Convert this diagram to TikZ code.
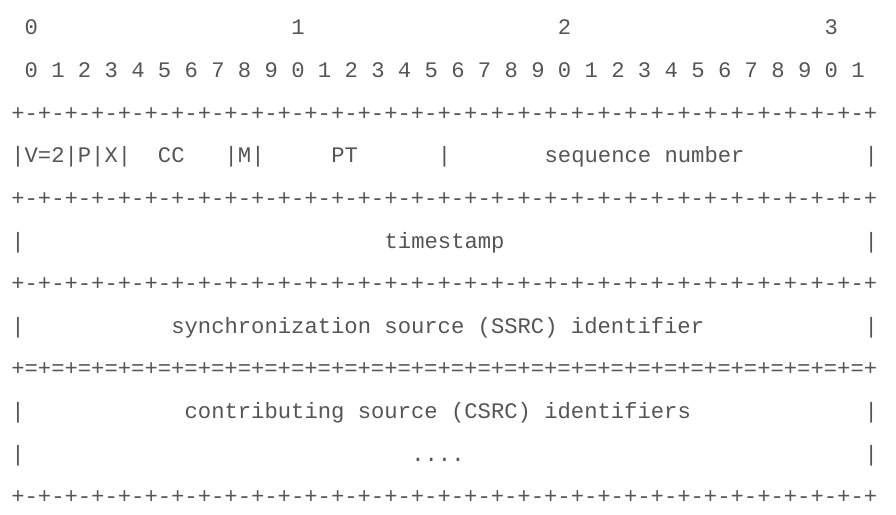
\documentclass[tikz,border=0pt]{standalone}
\usepackage{fontspec}
\setmonofont{Liberation Mono}
\usepackage{xcolor}
\usepackage{tikz}
\definecolor{asciic}{HTML}{555555}
\tikzset{
  rowtext/.style={anchor=base west, inner sep=0pt, outer sep=0pt, text=asciic,
    font=\ttfamily\fontsize{22.2}{26}\selectfont},
}

\begin{document}
\begin{tikzpicture}[x=13.333pt, y=-42.6pt]
  \useasboundingbox (-0.8475,-0.8216) rectangle (66.35,11.244);
  % bit ruler
  \foreach \d [count=\i from 0] in {0,1,2,3} {
    \node[rowtext] (oct\i) at ({1+20*\i},0) {\d};
  }
  \foreach \b in {0,...,31} {
    \pgfmathtruncatemacro{\u}{mod(\b,10)}
    \node[rowtext] (bit\b) at ({1+2*\b},1) {\u};
  }
  % borders
  \node[rowtext] (top) at (0,2) {+-+-+-+-+-+-+-+-+-+-+-+-+-+-+-+-+-+-+-+-+-+-+-+-+-+-+-+-+-+-+-+-+};
  \node[rowtext] (sepa) at (0,4) {+-+-+-+-+-+-+-+-+-+-+-+-+-+-+-+-+-+-+-+-+-+-+-+-+-+-+-+-+-+-+-+-+};
  \node[rowtext] (sepb) at (0,6) {+-+-+-+-+-+-+-+-+-+-+-+-+-+-+-+-+-+-+-+-+-+-+-+-+-+-+-+-+-+-+-+-+};
  \node[rowtext] (sepc) at (0,8) {+=+=+=+=+=+=+=+=+=+=+=+=+=+=+=+=+=+=+=+=+=+=+=+=+=+=+=+=+=+=+=+=+};
  \node[rowtext] (bot) at (0,11) {+-+-+-+-+-+-+-+-+-+-+-+-+-+-+-+-+-+-+-+-+-+-+-+-+-+-+-+-+-+-+-+-+};
  % first word
  \node[rowtext] (vpx) at (0,3) {|V=2|P|X|};
  \node[rowtext] (cc) at (11,3) {CC};
  \node[rowtext] (mk) at (16,3) {|M|};
  \node[rowtext] (pt) at (24,3) {PT};
  \node[rowtext] (barpt) at (32,3) {|};
  \node[rowtext] (seq) at (40,3) {sequence number};
  \node[rowtext] (barseq) at (64,3) {|};
  % timestamp
  \node[rowtext] (lts) at (0,5) {|};
  \node[rowtext] (ts) at (28,5) {timestamp};
  \node[rowtext] (rts) at (64,5) {|};
  % ssrc
  \node[rowtext] (lssrc) at (0,7) {|};
  \node[rowtext] (ssrc) at (12,7) {synchronization source (SSRC) identifier};
  \node[rowtext] (rssrc) at (64,7) {|};
  % csrc list
  \node[rowtext] (lcsrc) at (0,9) {|};
  \node[rowtext] (csrc) at (13,9) {contributing source (CSRC) identifiers};
  \node[rowtext] (rcsrc) at (64,9) {|};
  \node[rowtext] (ldots) at (0,10) {|};
  \node[rowtext] (dots) at (30,10) {....};
  \node[rowtext] (rdots) at (64,10) {|};
\end{tikzpicture}
\end{document}
